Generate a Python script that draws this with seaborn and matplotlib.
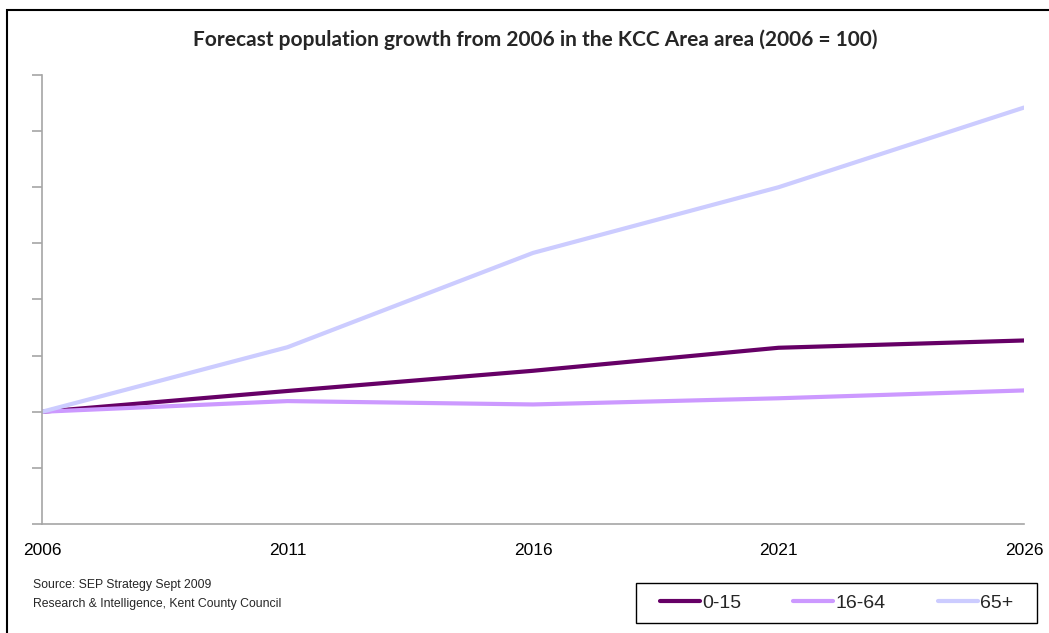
import matplotlib
matplotlib.use("Agg")
import matplotlib.pyplot as plt
import seaborn as sns
import pandas as pd
from matplotlib.patches import Rectangle

years = [2006, 2011, 2016, 2021, 2026]
age_0_15 = [100, 103.7, 107.3, 111.4, 112.7]
age_16_64 = [100, 101.9, 101.3, 102.4, 103.8]
age_65_plus = [100, 111.5, 128.3, 140.0, 154.2]
groups = ["0-15", "16-64", "65+"]
colors = ["#660066", "#CC99FF", "#CCCCFF"]

df = pd.DataFrame({
    "year": years * 3,
    "index": age_0_15 + age_16_64 + age_65_plus,
    "group": [g for g in groups for _ in years],
})

sns.set_theme(style="white")
plt.rcParams["font.family"] = ["Liberation Sans", "DejaVu Sans"]

W, H = 1049, 633
fig = plt.figure(figsize=(W / 100, H / 100), dpi=100)
ax = fig.add_axes([42 / W, 1 - 524 / H, (1024 - 42) / W, (524 - 75) / H])

sns.lineplot(data=df, x="year", y="index", hue="group", palette=colors,
             hue_order=groups, linewidth=3.0, ax=ax, legend=False,
             solid_capstyle="round")

ax.set_xlim(2006, 2026)
ax.set_ylim(80, 160)
ax.set_xticks(years)
ax.set_xticklabels([str(y) for y in years], fontsize=12.5)
ax.set_yticks(range(80, 161, 10))
ax.set_yticklabels([])
ax.set_xlabel("")
ax.set_ylabel("")
for side in ["top", "right"]:
    ax.spines[side].set_visible(False)
for side in ["left", "bottom"]:
    ax.spines[side].set_color("#a6a6a6")
    ax.spines[side].set_linewidth(1.2)
ax.tick_params(axis="y", which="both", left=True, length=7, width=1.2,
               color="#a6a6a6", direction="out")
ax.tick_params(axis="x", bottom=False, pad=8, colors="black")

fig.text(535 / W, 1 - 40 / H,
         "Forecast population growth from 2006 in the KCC Area area (2006 = 100)",
         ha="center", va="center", fontsize=15, fontweight="bold",
         family=["Lato", "DejaVu Sans"])

fig.text(33 / W, 1 - 585 / H, "Source: SEP Strategy Sept 2009",
         ha="left", va="center", fontsize=8.8)
fig.text(33 / W, 1 - 604 / H, "Research & Intelligence, Kent County Council",
         ha="left", va="center", fontsize=8.8)

# outer frame around the chart
fig.patches.append(Rectangle((7 / W, -0.05), 1.1, 1 - 10 / H + 0.05,
                             transform=fig.transFigure, fill=False,
                             edgecolor="black", linewidth=1.5))

# legend frame
fig.patches.append(Rectangle((636 / W, 1 - 623 / H), (1037 - 636) / W, 40 / H,
                             transform=fig.transFigure, fill=False,
                             edgecolor="black", linewidth=1.0))

handles = [plt.Line2D([], [], color=c, linewidth=3.0) for c in colors]
leg = fig.legend(handles, groups, loc="center left",
                 bbox_to_anchor=(660 / W, 1 - 603 / H),
                 ncol=3, frameon=False, fontsize=14, handlelength=2.05,
                 handletextpad=0.1, columnspacing=2.7, borderpad=0,
                 borderaxespad=0)

fig.savefig("out.png", dpi=100, facecolor="white")
